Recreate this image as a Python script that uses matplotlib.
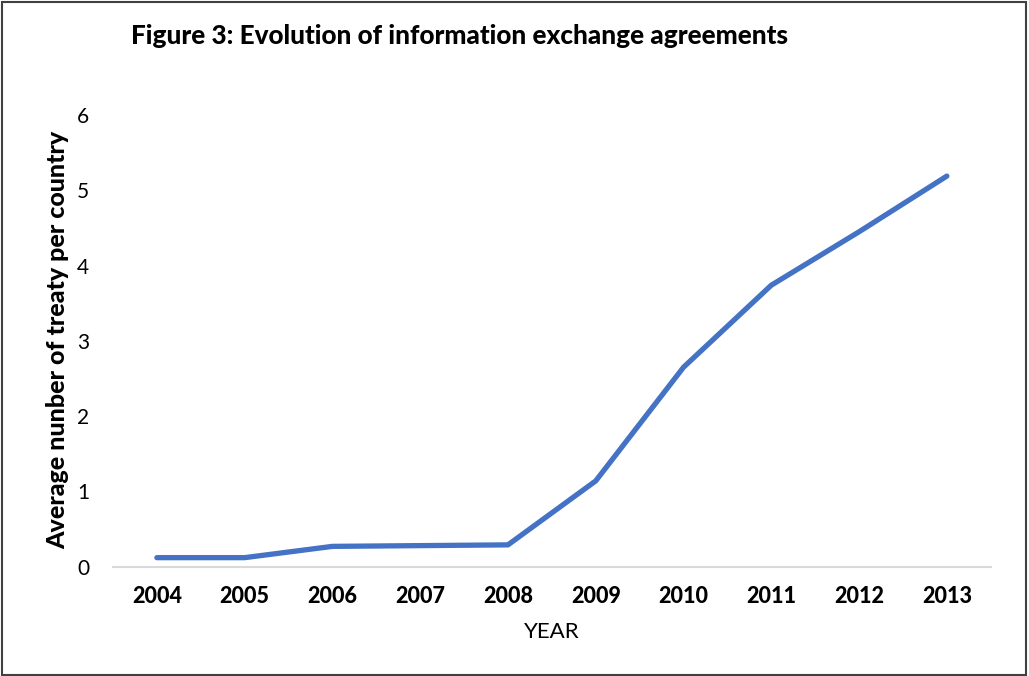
import matplotlib.pyplot as plt
from matplotlib.patches import Rectangle

plt.rcParams['font.family'] = ['Lato', 'DejaVu Sans']

years = ["2004", "2005", "2006", "2007", "2008", "2009", "2010", "2011", "2012", "2013"]
avg_treaties = [0.12, 0.12, 0.27, 0.28, 0.29, 1.14, 2.65, 3.74, 4.45, 5.19]

fig = plt.figure(figsize=(10.29, 6.76), dpi=100)
ax = fig.add_axes([0.1098, 0.1617, 0.853, 0.668])

x = range(len(years))
ax.plot(x, avg_treaties, color="#4472C4", linewidth=3.8, solid_capstyle="round",
        solid_joinstyle="round")

ax.set_xlim(-0.5, len(years) - 0.5)
ax.set_ylim(0, 6)
ax.set_xticks(list(x))
ax.set_xticklabels(years, fontsize=15.5, fontweight="black")
ax.set_yticks(range(7))
ax.tick_params(axis="y", labelsize=15, length=0, pad=17)
ax.tick_params(axis="x", length=0, pad=14)

for side in ["top", "right", "left"]:
    ax.spines[side].set_visible(False)
ax.spines["bottom"].set_color("#D9D9D9")
ax.spines["bottom"].set_linewidth(1.5)

ax.set_xlabel("YEAR", fontsize=16, labelpad=11)
fig.text(0.0564, 0.497, "Average nunber of treaty per country", rotation=90,
         fontsize=18, fontweight="black", ha="center", va="center")
fig.text(0.127, 0.947, "Figure 3: Evolution of information exchange agreements",
         fontsize=18.8, fontweight="black", ha="left", va="center")

# outer frame around the whole figure
fig.patches.append(Rectangle((0.002, 0.002), 0.995, 0.995, transform=fig.transFigure,
                             fill=False, edgecolor="#404040", linewidth=1.5))

fig.savefig("out.png", dpi=100)
